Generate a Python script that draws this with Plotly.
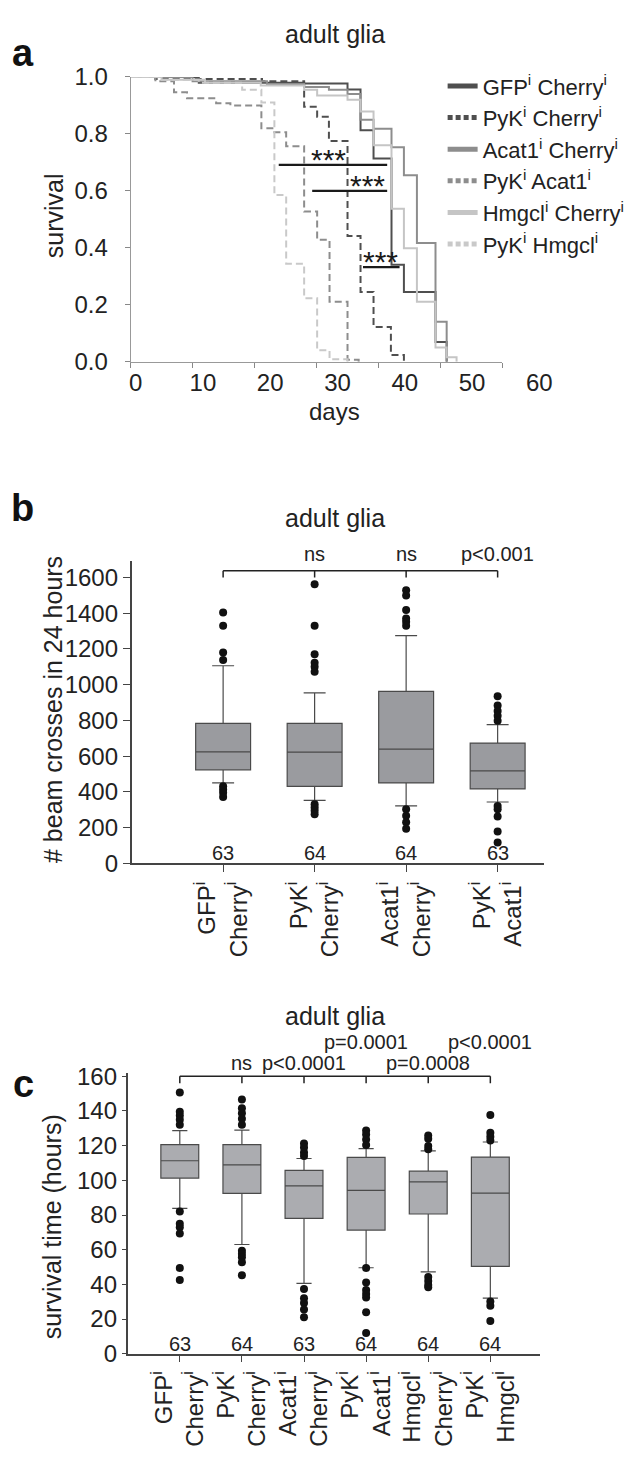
import plotly.graph_objects as go

W, H = 633, 1469
FONT = "Liberation Sans, Arial, Helvetica, sans-serif"


def px(x):
    return x / W


def py(y):
    return 1 - y / H


# ---------------- Panel a: survival curves ----------------
days_gfp_cherry = [0, 8, 11, 28, 35.0, 37.1, 39.2, 42.1, 44.1, 49.2, 51.0]
surv_gfp_cherry = [1.0, 1.0, 0.98, 0.977, 0.956, 0.813, 0.714, 0.34, 0.245, 0.069, 0.0]

days_pyk_cherry = [0, 4, 21.2, 28.0, 30.1, 32.0, 35.0, 37.1, 39.2, 42.0, 44.1]
surv_pyk_cherry = [1.0, 0.993, 0.985, 0.895, 0.86, 0.775, 0.441, 0.245, 0.122, 0.023, 0.0]

days_acat1_cherry = [0, 10, 22, 28, 32, 35.0, 37.1, 39.2, 42.1, 44.1, 46.2, 49.2, 51.0]
surv_acat1_cherry = [1.0, 0.985, 0.975, 0.965, 0.955, 0.94, 0.85, 0.818, 0.753, 0.655, 0.417, 0.14, 0.0]

days_pyk_acat1 = [0, 4, 7.0, 9.1, 13.8, 16.1, 21.1, 23.2, 25.1, 28.0, 30.1, 32.1, 35.0, 36.8]
surv_pyk_acat1 = [1.0, 0.985, 0.946, 0.925, 0.908, 0.9, 0.82, 0.806, 0.757, 0.527, 0.428, 0.21, 0.007, 0.0]

days_hmgcl_cherry = [0, 5, 12, 21, 28.0, 30.1, 35.0, 37.1, 39.2, 42.1, 44.1, 46.2, 49.2, 51.0, 52.6]
surv_hmgcl_cherry = [1.0, 0.99, 0.98, 0.97, 0.955, 0.935, 0.92, 0.879, 0.76, 0.537, 0.398, 0.21, 0.05, 0.015, 0.0]

days_pyk_hmgcl = [0, 5, 11, 18.0, 21.1, 23.2, 25.1, 28.0, 30.1, 32.1, 35.0]
surv_pyk_hmgcl = [1.0, 0.99, 0.98, 0.955, 0.91, 0.585, 0.344, 0.223, 0.04, 0.008, 0.0]

curve_names = [
    "GFP<sup>i</sup> Cherry<sup>i</sup>",
    "PyK<sup>i</sup> Cherry<sup>i</sup>",
    "Acat1<sup>i</sup> Cherry<sup>i</sup>",
    "PyK<sup>i</sup> Acat1<sup>i</sup>",
    "Hmgcl<sup>i</sup> Cherry<sup>i</sup>",
    "PyK<sup>i</sup> Hmgcl<sup>i</sup>",
]
curve_days = [days_gfp_cherry, days_pyk_cherry, days_acat1_cherry,
              days_pyk_acat1, days_hmgcl_cherry, days_pyk_hmgcl]
curve_surv = [surv_gfp_cherry, surv_pyk_cherry, surv_acat1_cherry,
              surv_pyk_acat1, surv_hmgcl_cherry, surv_pyk_hmgcl]
curve_colors = ["#4f4f4f", "#4f4f4f", "#8d8d8d", "#8d8d8d", "#c5c5c5", "#c9c9c9"]
curve_dash = ["solid", "7px,4px", "solid", "7px,4px", "solid", "7px,4px"]

sig_x0 = [23.9, 29.3, 37.5]
sig_x1 = [41.4, 41.4, 43.4]
sig_y = [0.691, 0.600, 0.332]
sig_star_x = [32.0, 38.2, 40.4]
sig_text = ["***", "***", "***"]

a_xticks = [0, 10, 20, 30, 40, 50, 60]
a_yticks = [0.0, 0.2, 0.4, 0.6, 0.8, 1.0]

# ---------------- Panel b: beam crosses ----------------
b_categories = ["GFP<sup>i</sup><br>Cherry<sup>i</sup>", "PyK<sup>i</sup><br>Cherry<sup>i</sup>",
                "Acat1<sup>i</sup><br>Cherry<sup>i</sup>", "PyK<sup>i</sup><br>Acat1<sup>i</sup>"]
b_q1 = [523, 431, 450, 416]
b_median = [624, 622, 639, 517]
b_q3 = [783, 783, 963, 673]
b_low = [450, 352, 321, 343]
b_high = [1106, 954, 1275, 776]
b_outliers = [
    [1404, 1330, 1180, 1138, 431, 413, 395, 371],
    [1563, 1330, 1171, 1123, 1101, 1073, 330, 312, 294, 275],
    [1529, 1499, 1418, 1371, 1352, 1330, 303, 266, 229, 193],
    [936, 884, 853, 826, 798, 321, 303, 262, 178, 116],
]
b_counts = ["63", "64", "64", "63"]
b_pvals = ["", "ns", "ns", "p<0.001"]
b_bracket_level = 1638
b_bracket_tick = 1600
b_yticks = [0, 200, 400, 600, 800, 1000, 1200, 1400, 1600]

# ---------------- Panel c: survival time ----------------
c_categories = ["GFP<sup>i</sup><br>Cherry<sup>i</sup>", "PyK<sup>i</sup><br>Cherry<sup>i</sup>",
                "Acat1<sup>i</sup><br>Cherry<sup>i</sup>", "PyK<sup>i</sup><br>Acat1<sup>i</sup>",
                "Hmgcl<sup>i</sup><br>Cherry<sup>i</sup>", "PyK<sup>i</sup><br>Hmgcl<sup>i</sup>"]
c_q1 = [101.3, 92.5, 78.1, 71.3, 80.6, 50.4]
c_median = [111.3, 108.9, 96.8, 94.2, 99.1, 92.6]
c_q3 = [120.6, 120.6, 105.7, 113.2, 105.3, 113.4]
c_low = [83.8, 63.0, 40.6, 49.6, 47.2, 32.1]
c_high = [128.7, 129.0, 112.6, 118.3, 117.0, 122.1]
c_outliers = [
    [150.6, 139.6, 137.4, 134.9, 132.0, 82.0, 75.0, 73.0, 69.4, 49.4, 42.5],
    [146.6, 141.5, 138.7, 135.5, 132.0, 59.4, 57.5, 55.7, 52.8, 45.3],
    [121.3, 118.9, 116.0, 114.0, 37.4, 32.0, 29.2, 25.5, 21.1],
    [128.7, 126.4, 123.6, 120.4, 49.4, 41.1, 36.8, 34.5, 32.5, 24.0, 11.9],
    [125.8, 124.0, 119.8, 117.9, 44.3, 41.9, 39.6, 38.3],
    [137.7, 127.4, 125.1, 123.0, 30.2, 27.7, 18.9],
]
c_counts = ["63", "64", "63", "64", "64", "64"]
c_pvals = ["", "ns", "p<0.0001", "p=0.0001", "p=0.0008", "p<0.0001"]
c_pval_row = [0, 0, 0, 1, 0, 1]
c_bracket_level = 160
c_bracket_tick = 156
c_yticks = [0, 20, 40, 60, 80, 100, 120, 140, 160]

fig = go.Figure()

# --- panel a traces
for name, d, s, col, dash in zip(curve_names, curve_days, curve_surv, curve_colors, curve_dash):
    fig.add_trace(go.Scatter(x=d, y=s, mode="lines", line=dict(color=col, width=2, dash=dash, shape="hv"),
                             showlegend=False, hoverinfo="skip", xaxis="x", yaxis="y"))
# legend entries (thicker swatches)
for name, col, dash in zip(curve_names, curve_colors, curve_dash):
    fig.add_trace(go.Scatter(x=[None], y=[None], mode="lines", name=name,
                             line=dict(color=col, width=5, dash=("solid" if dash == "solid" else "5px,3px")),
                             xaxis="x", yaxis="y"))
# significance bars
for x0, x1, yv in zip(sig_x0, sig_x1, sig_y):
    fig.add_trace(go.Scatter(x=[x0, x1], y=[yv, yv], mode="lines", line=dict(color="#1a1a1a", width=2.2),
                             showlegend=False, hoverinfo="skip", xaxis="x", yaxis="y"))
# tick labels axis (shifted label layout as in reference)
fig.add_trace(go.Scatter(x=[None], y=[None], mode="lines", showlegend=False, hoverinfo="skip",
                         xaxis="x4", yaxis="y"))

annotations = []
for sx, yv, t in zip(sig_star_x, sig_y, sig_text):
    annotations.append(dict(x=sx, y=yv, xref="x", yref="y", text=t, showarrow=False,
                            font=dict(size=30, color="#1a1a1a", family=FONT), yanchor="bottom", yshift=-13))


def add_box_panel(cats, q1, med, q3, lo, hi, outl, fill, xa, ya, width):
    for i in range(len(cats)):
        fig.add_trace(go.Box(x=[i], q1=[q1[i]], median=[med[i]], q3=[q3[i]],
                             lowerfence=[lo[i]], upperfence=[hi[i]], width=width,
                             fillcolor=fill, line=dict(color="#4a4a4a", width=1.2),
                             whiskerwidth=0.4, boxpoints=False, showlegend=False,
                             hoverinfo="skip", xaxis=xa, yaxis=ya))
        fig.add_trace(go.Scatter(x=[i] * len(outl[i]), y=outl[i], mode="markers",
                                 marker=dict(color="#111111", size=8), showlegend=False,
                                 hoverinfo="skip", xaxis=xa, yaxis=ya))


add_box_panel(b_categories, b_q1, b_median, b_q3, b_low, b_high, b_outliers, "#9a9b9f", "x2", "y2", 0.6)
add_box_panel(c_categories, c_q1, c_median, c_q3, c_low, c_high, c_outliers, "#abacb0", "x3", "y3", 0.61)


def add_bracket(n, level, tick, xa, ya):
    xs, ys = [0, n - 1, None], [level, level, None]
    for i in range(n):
        xs += [i, i, None]
        ys += [level, tick, None]
    fig.add_trace(go.Scatter(x=xs, y=ys, mode="lines", line=dict(color="#222222", width=1.5),
                             showlegend=False, hoverinfo="skip", xaxis=xa, yaxis=ya))


add_bracket(len(b_categories), b_bracket_level, b_bracket_tick, "x2", "y2")
add_bracket(len(c_categories), c_bracket_level, c_bracket_tick, "x3", "y3")

small = dict(size=20, color="#222", family=FONT)
for i, (cnt, pv) in enumerate(zip(b_counts, b_pvals)):
    annotations.append(dict(x=i, y=57, xref="x2", yref="y2", text=cnt, showarrow=False,
                            font=small, yanchor="middle"))
    if pv:
        annotations.append(dict(x=i, y=py(542), xref="x2", yref="paper", text=pv, showarrow=False,
                                font=small, yanchor="middle"))
for i, (cnt, pv, row) in enumerate(zip(c_counts, c_pvals, c_pval_row)):
    annotations.append(dict(x=i, y=5.7, xref="x3", yref="y3", text=cnt, showarrow=False,
                            font=small, yanchor="middle"))
    if pv:
        annotations.append(dict(x=i, y=py(1039 if row else 1060), xref="x3", yref="paper", text=pv,
                                showarrow=False, font=small, yanchor="middle"))

# titles, panel letters, axis titles
for yy in [12, 505, 1013]:
    annotations.append(dict(x=px(326), y=py(yy), xref="paper", yref="paper", text="adult glia",
                            showarrow=False, font=dict(size=25, color="#222", family=FONT),
                            xanchor="center", yanchor="middle"))
for letter, xx, yy in [("a", 13, 32), ("b", 13, 495), ("c", 14, 1082)]:
    annotations.append(dict(x=px(xx), y=py(yy), xref="paper", yref="paper", text="<b>%s</b>" % letter,
                            showarrow=False, font=dict(size=38, color="#111", family=FONT),
                            xanchor="center", yanchor="middle"))
annotations.append(dict(x=px(326), y=py(397), xref="paper", yref="paper", text="days", showarrow=False,
                        font=dict(size=24, color="#222", family=FONT), xanchor="center", yanchor="middle"))
for txt, xx, yy in [("survival", 45, 197), ("# beam crosses in 24 hours", 43, 700),
                    ("survival time (hours)", 43, 1227)]:
    annotations.append(dict(x=px(xx), y=py(yy), xref="paper", yref="paper", text=txt, showarrow=False,
                            textangle=-90, font=dict(size=25, color="#222", family=FONT),
                            xanchor="center", yanchor="middle"))

tickfont = dict(size=24, color="#222", family=FONT)

fig.update_layout(
    width=W, height=H, margin=dict(l=0, r=0, t=0, b=0),
    paper_bgcolor="white", plot_bgcolor="rgba(0,0,0,0)",
    font=dict(family=FONT, color="#222"),
    showlegend=True,
    legend=dict(x=px(434), y=py(44), xanchor="left", yanchor="top",
                font=dict(size=22, color="#222", family=FONT),
                itemwidth=30, tracegroupgap=0, bgcolor="rgba(0,0,0,0)", borderwidth=0),
    annotations=annotations,
    xaxis=dict(domain=[px(121), px(494)], range=[0, 60], tickvals=a_xticks, showticklabels=False,
               ticks="outside", ticklen=5, tickcolor="#888", showline=True, linecolor="#999", linewidth=1,
               showgrid=False, zeroline=False, anchor="y", fixedrange=True),
    yaxis=dict(domain=[py(346), py(56)], range=[0, 1.0], tickvals=a_yticks, tickformat=".1f",
               ticks="outside", ticklen=5, tickcolor="#888", showline=True, linecolor="#999", linewidth=1,
               showgrid=False, zeroline=False, anchor="x", tickfont=tickfont, ticklabelstandoff=12,
               fixedrange=True),
    xaxis4=dict(domain=[px(121), px(545)], range=[-0.74, 62.07], tickvals=a_xticks, ticks="",
                showline=False, showgrid=False, zeroline=False, anchor="y", tickfont=tickfont,
                ticklabelstandoff=4, fixedrange=True),
    xaxis2=dict(domain=[px(122), px(536)], range=[-1.0, 3.51], tickvals=list(range(len(b_categories))),
                ticktext=b_categories, tickangle=-90, ticks="outside", ticklen=7, tickcolor="#444",
                showline=True, linecolor="#444", linewidth=1.5, showgrid=False, zeroline=False,
                anchor="y2", tickfont=tickfont, fixedrange=True),
    yaxis2=dict(domain=[py(857), py(549.6)], range=[0, 1690], tickvals=b_yticks, ticks="outside",
                ticklen=7, tickcolor="#444", showline=True, linecolor="#444", linewidth=1.5,
                showgrid=False, zeroline=False, anchor="x2", tickfont=tickfont, fixedrange=True),
    xaxis3=dict(domain=[px(118), px(531.7)], range=[-0.84, 5.8], tickvals=list(range(len(c_categories))),
                ticktext=c_categories, tickangle=-90, ticks="outside", ticklen=6, tickcolor="#444",
                showline=True, linecolor="#444", linewidth=1.5, showgrid=False, zeroline=False,
                anchor="y3", tickfont=tickfont, fixedrange=True),
    yaxis3=dict(domain=[py(1356.7), py(1070.5)], range=[0, 162], tickvals=c_yticks, ticks="outside",
                ticklen=4, tickcolor="#444", showline=True, linecolor="#444", linewidth=1.5,
                showgrid=False, zeroline=False, anchor="x3", tickfont=tickfont, fixedrange=True),
)

fig.write_html("out.html")
